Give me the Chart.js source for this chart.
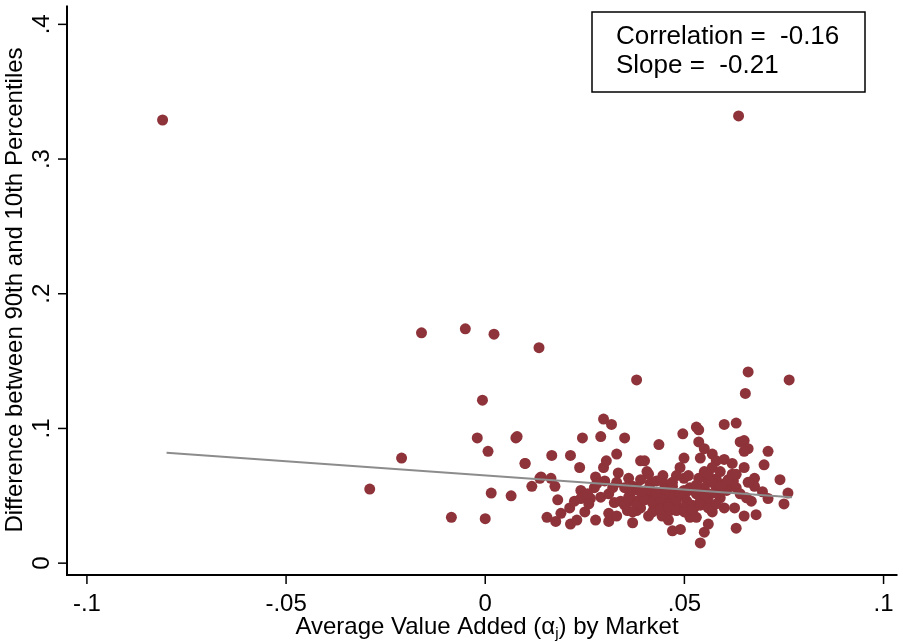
<!DOCTYPE html>
<html><head><meta charset="utf-8">
<script src="https://cdn.jsdelivr.net/npm/chart.js@4"></script>
<style>html,body{margin:0;padding:0;background:#fff}#w{width:903px;height:642px}</style>
</head><body><div id="w"><canvas id="c"></canvas></div>
<script>
const xVals=[-0.081,0.0636,-0.016,-0.005,0.0022,0.0135,0.038,0.0763,0.066,0.0653,-0.0007,-0.021,-0.029,-0.0085,0,-0.002,0.0007,0.0077,0.0015,0.0065,0.010,0.014,
0.0297,0.0317,0.008,0.0244,0.029,0.035,0.0436,0.0496,0.053,0.0536,0.060,0.063,0.0536,0.064,0.065,0.066,0.065,0.071,0.070,0.074,0.076,0.075,0.068,0.065,0.063,0.054,0.055,0.056,0.047,0.049,
0.0155,0.0177,0.0214,0.023,0.0277,0.031,0.037,0.010,0.0117,0.0137,0.0167,0.0214,0.0165,0.0175,0.0182,0.0212,0.0237,0.024,0.025,0.0264,0.0277,0.0297,0.0304,0.033,0.0334,0.029,0.031,0.0324,0.033,0.036,0.039,0.0406,0.041,0.0446,0.0444,0.046,0.0489,0.0499,0.0514,0.054,0.055,0.057,0.058,0.060,0.062,0.065,0.0676,0.0676,0.0696,0.071,0.0668,0.0626,0.060,0.057,0.063,0.0614,0.058,0.0556,0.0536,0.0544,0.0524,0.0499,0.048,0.047,0.0456,0.0431,0.0414,0.040,0.038,0.0364,0.035,0.034,0.039,0.0424,0.045,0.048,0.0506,0.053,0.056,0.059,0.0606,0.0623,0.064,0.0656,0.038,0.0414,0.045,0.0464,0.0499,0.0514,0.056,0.057,0.040,0.041,0.031,0.030,0.0431,0.056,0.053,0.0464,0.038,0.024,0.0224,0.019,0.0357,0.0364,0.0499,0.055,0.058,0.060,0.045,0.0414,0.037,0.0274,0.0257,
0.036,0.038,0.040,0.042,0.044,0.046,0.048,0.050,0.052,0.054,0.056,0.058,0.037,0.039,0.041,0.043,0.045,0.047,0.049,0.051,0.053,0.055,0.057,0.059,0.061,0.035,0.037,0.042,0.044,0.046,0.048,0.050,0.052,0.054,0.056,0.058,0.062,0.033,0.043,0.051,0.055,0.047,0.039,0.059,0.063,0.066,0.032,0.028,0.026];
const yVals=[0.329,0.332,0.171,0.174,0.170,0.160,0.136,0.136,0.142,0.126,0.121,0.078,0.055,0.034,0.033,0.093,0.083,0.093,0.052,0.050,0.074,0.064,
0.107,0.103,0.094,0.093,0.094,0.093,0.088,0.096,0.101,0.099,0.103,0.104,0.090,0.090,0.091,0.085,0.083,0.083,0.073,0.062,0.052,0.044,0.036,0.035,0.026,0.015,0.023,0.029,0.024,0.025,
0.034,0.031,0.029,0.032,0.032,0.031,0.030,0.074,0.057,0.063,0.080,0.080,0.063,0.057,0.047,0.041,0.071,0.054,0.038,0.048,0.064,0.071,0.076,0.081,0.067,0.049,0.037,0.045,0.035,0.063,0.076,0.068,0.035,0.065,0.035,0.032,0.071,0.078,0.034,0.078,0.085,0.081,0.076,0.077,0.074,0.071,0.063,0.057,0.053,0.048,0.046,0.041,0.041,0.038,0.056,0.059,0.0625,0.063,0.063,0.0485,0.041,0.063,0.065,0.054,0.0485,0.052,0.0485,0.0515,0.046,0.0515,0.056,0.046,0.041,0.041,0.044,0.044,0.046,0.0515,0.0515,0.0485,0.054,0.061,0.0515,0.0485,0.056,0.059,0.059,0.0515,0.054,0.056,0.066,0.071,0.076,0.066,0.0515,0.061,0.041,0.044,0.034,0.039,0.039,0.048,0.046,0.037,0.039,0.046,0.041,0.056,0.056,0.059,0.0515,0.054,0.057,0.056,0.0515,
0.049,0.043,0.047,0.045,0.048,0.044,0.047,0.050,0.043,0.046,0.049,0.052,0.054,0.053,0.055,0.052,0.055,0.057,0.052,0.054,0.058,0.051,0.060,0.057,0.062,0.043,0.038,0.038,0.040,0.042,0.039,0.038,0.040,0.043,0.041,0.044,0.066,0.060,0.061,0.065,0.068,0.060,0.062,0.068,0.066,0.060,0.056,0.059,0.044];
const fitX=[-0.080,0.077];
const fitY=[0.082,0.049];
const xTicks=[-0.1,-0.05,0,0.05,0.1];
const xTickLabels=["-.1","-.05","0",".05",".1"];
const yTicks=[0,0.1,0.2,0.3,0.4];
const yTickLabels=["0",".1",".2",".3",".4"];
const statLines=["Correlation =  -0.16","Slope =  -0.21"];
const xTitle="Average Value Added (α";
const yTitle="Difference between 90th and 10th Percentiles";

const pts=xVals.map((x,i)=>({x:x,y:yVals[i]}));
const fit=fitX.map((x,i)=>({x:x,y:fitY[i]}));
const F='"Liberation Sans", Arial, sans-serif';
const deco={id:'deco',afterDraw(ch){
  const c=ch.ctx,xs=ch.scales.x,ys=ch.scales.y,a=ch.chartArea;
  c.save();c.strokeStyle='#000';c.lineWidth=2;
  c.beginPath();c.moveTo(a.left,a.top);c.lineTo(a.left,a.bottom);c.lineTo(a.right,a.bottom);c.stroke();
  c.lineWidth=1.5;c.fillStyle='#000';
  c.font='24px '+F;c.textAlign='center';c.textBaseline='middle';
  xTicks.forEach((t,i)=>{const p=xs.getPixelForValue(t);c.beginPath();c.moveTo(p,a.bottom);c.lineTo(p,a.bottom+9);c.stroke();c.fillText(xTickLabels[i],p,a.bottom+29);});
  yTicks.forEach((t,i)=>{const p=ys.getPixelForValue(t);c.beginPath();c.moveTo(a.left,p);c.lineTo(a.left-9,p);c.stroke();
    c.save();c.translate(a.left-25,p);c.rotate(-Math.PI/2);c.fillText(yTickLabels[i],0,0);c.restore();});
  c.font='24px '+F;
  const w1=c.measureText(xTitle).width,w2=c.measureText(') by Market').width;c.font='15px '+F;const wj=c.measureText('j').width;
  let x0=487-(w1+wj+w2)/2;c.textAlign='left';c.font='24px '+F;c.fillText(xTitle,x0,627);
  c.font='15px '+F;c.fillText('j',x0+w1,634);c.font='24px '+F;c.fillText(') by Market',x0+w1+wj,627);
  c.save();c.translate(15,290);c.rotate(-Math.PI/2);c.textAlign='center';c.fillText(yTitle,0,0);c.restore();
  c.lineWidth=1.5;c.strokeRect(592,12,273,80);
  c.font='26px '+F;c.textAlign='left';c.fillText(statLines[0],616,37);c.fillText(statLines[1],616,66);
  c.restore();}};
new Chart(document.getElementById('c'),{type:'scatter',
 data:{datasets:[
  {type:'line',data:fit,borderColor:'#8c8c8c',borderWidth:2,pointRadius:0,fill:false,order:0},
  {data:pts,backgroundColor:'#8e3339',borderWidth:0,pointRadius:5.5,order:1}]},
 options:{responsive:true,maintainAspectRatio:false,animation:false,
  layout:{padding:0},
  plugins:{legend:{display:false},tooltip:{enabled:false}},
  scales:{
   x:{type:'linear',min:-0.105,max:0.1035,display:true,grid:{display:false},border:{display:false},ticks:{display:false},afterFit(s){s.height=67;}},
   y:{type:'linear',min:-0.0088,max:0.414,display:true,grid:{display:false},border:{display:false},ticks:{display:false},afterFit(s){s.width=67;}}}},
 plugins:[deco]});
</script></body></html>
